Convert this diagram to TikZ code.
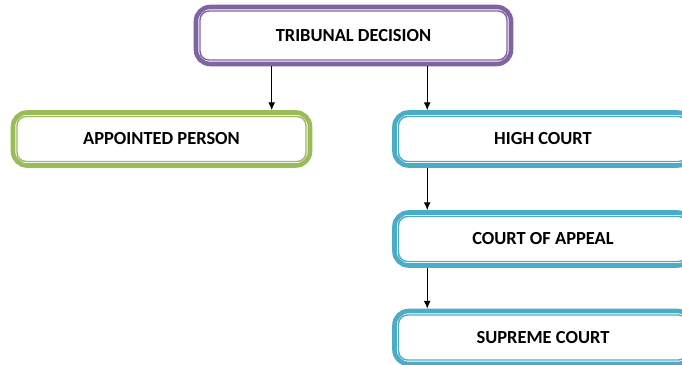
\documentclass[tikz,border=0pt]{standalone}
\usepackage{fontspec}
\setmainfont{Carlito}
\usepackage{tikz}
\usetikzlibrary{positioning,arrows.meta}
\definecolor{boxpurple}{RGB}{128,100,162}
\definecolor{boxgreen}{RGB}{155,187,89}
\definecolor{boxblue}{RGB}{75,172,198}

\begin{document}
\begin{tikzpicture}
    [
        court box/.style={draw=#1, line width=2.6pt, rounded corners=8pt, fill=white,
            minimum width=5.94cm, minimum height=1.06cm,
            font=\bfseries\fontsize{10.5}{12}\selectfont},
        link/.style={-{Latex[length=4.5pt,width=4pt]}, line width=0.7pt, black}
    ]
    \clip (0,0) rectangle (13.64,7.3);
    \useasboundingbox (0,0) rectangle (13.64,7.3);

    % boxes
    \node[court box=boxpurple, minimum width=6.3cm, minimum height=1.14cm] (trib) at (7.07,6.59) {TRIBUNAL DECISION};
    \node[court box=boxgreen] (person) at (3.23,4.52) {APPOINTED PERSON};
    \node[court box=boxblue] (high) at (10.86,4.52) {HIGH COURT};
    \node[court box=boxblue] (appeal) at (10.86,2.52) {COURT OF APPEAL};
    \node[court box=boxblue] (supreme) at (10.86,0.55) {SUPREME COURT};

    % thin inner lines
    \foreach \n/\c in {trib/boxpurple, person/boxgreen, high/boxblue, appeal/boxblue, supreme/boxblue}
        \draw[\c, line width=0.8pt, rounded corners=5pt]
            ([shift={(3.6pt,3.6pt)}]\n.south west) rectangle ([shift={(-3.6pt,-3.6pt)}]\n.north east);

    % arrows
    \draw[link] ([xshift=1.56cm]trib.south west) -- ([xshift=1.56cm]trib.south west |- person.north);
    \draw[link] ([xshift=0.7cm]high.north west |- trib.south) -- ([xshift=0.7cm]high.north west);
    \draw[link] ([xshift=0.7cm]high.south west) -- ([xshift=0.7cm]appeal.north west);
    \draw[link] ([xshift=0.7cm]appeal.south west) -- ([xshift=0.7cm]supreme.north west);
\end{tikzpicture}
\end{document}
